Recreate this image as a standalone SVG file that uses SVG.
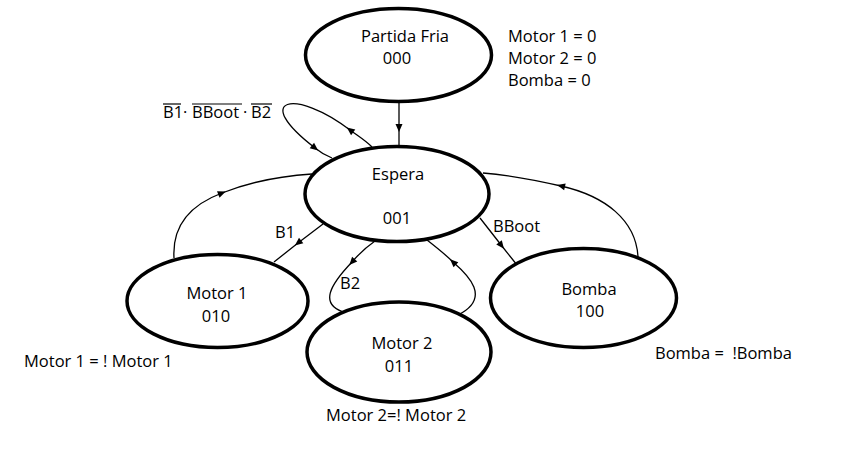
<svg xmlns="http://www.w3.org/2000/svg" width="844" height="470" viewBox="0 0 844 470">
<style>
.st ellipse{fill:#fff;stroke:#000;stroke-width:3.5}
text{font-family:"Open Sans","Liberation Sans",sans-serif;font-size:16.5px;fill:#000;white-space:pre}
.c{text-anchor:middle}
.cn path{fill:none;stroke:#000;stroke-width:1.3;marker-mid:url(#ah)}
.ov{stroke:#000;stroke-width:1.2}
</style>
<defs>
<marker id="ah" viewBox="-5 -5 10 10" markerWidth="10" markerHeight="10" markerUnits="userSpaceOnUse" orient="auto">
<path d="M4,0 L-4,-3.5 L-4,3.5 Z" fill="#000"/>
</marker>
</defs>
<rect width="844" height="470" fill="#fff"/>
<g id="connectors" class="cn">
<path d="M399,102 L399,128 L399,147"/>
<path d="M372,147 C365,140 358,136 350,130 C295,88 250,98 315,148 C321,153 327,156 332,158"/>
<path d="M323,224 L298,243 L274,262"/>
<path d="M174,258 C172,225 190,205 222,193 C250,182 280,176 312,174"/>
<path d="M375,241 C365,248 358,255 352,262 C330,285 318,305 346,313"/>
<path d="M458,315 C492,298 468,275 453,262 C445,254 436,247 427,240"/>
<path d="M480,218 L501.5,245.5 L517,265"/>
<path d="M638,257 C636,220 605,196 561,186 C535,180 510,175 483,173"/>
</g>
<g id="partida" class="st">
<ellipse cx="398.5" cy="55" rx="93" ry="46.5"/>
<text class="c" x="405" y="42">Partida Fria</text>
<text class="c" x="397" y="64">000</text>
</g>
<g id="espera" class="st">
<ellipse cx="397" cy="194" rx="92" ry="47.5"/>
<text class="c" x="398" y="180">Espera</text>
<text class="c" x="397" y="224">001</text>
</g>
<g id="motor1" class="st">
<ellipse cx="217.5" cy="301" rx="90.5" ry="46.5"/>
<text class="c" x="217" y="299">Motor 1</text>
<text class="c" x="216" y="322">010</text>
</g>
<g id="motor2" class="st">
<ellipse cx="399" cy="352" rx="92" ry="50"/>
<text class="c" x="402" y="349">Motor 2</text>
<text class="c" x="399" y="372">011</text>
</g>
<g id="bomba" class="st">
<ellipse cx="583.5" cy="298" rx="93" ry="49.5"/>
<text class="c" x="589" y="295">Bomba</text>
<text class="c" x="590" y="317">100</text>
</g>
<g id="labels">
<text x="508" y="42">Motor 1 = 0</text>
<text x="508" y="64">Motor 2 = 0</text>
<text x="508" y="86">Bomba = 0</text>
<text y="118"><tspan x="163">B1</tspan><tspan x="183">·</tspan><tspan x="192">BBoot</tspan><tspan x="243">·</tspan><tspan x="251">B2</tspan></text>
<line class="ov" x1="163" y1="104" x2="181" y2="104"/>
<line class="ov" x1="192" y1="104" x2="242" y2="104"/>
<line class="ov" x1="251" y1="104" x2="272" y2="104"/>
<text x="275" y="238">B1</text>
<text x="340" y="289">B2</text>
<text x="493" y="232">BBoot</text>
<text x="24" y="367">Motor 1 = ! Motor 1</text>
<text x="326" y="421">Motor 2=! Motor 2</text>
<text x="655" y="359">Bomba =  !Bomba</text>
</g>
</svg>
